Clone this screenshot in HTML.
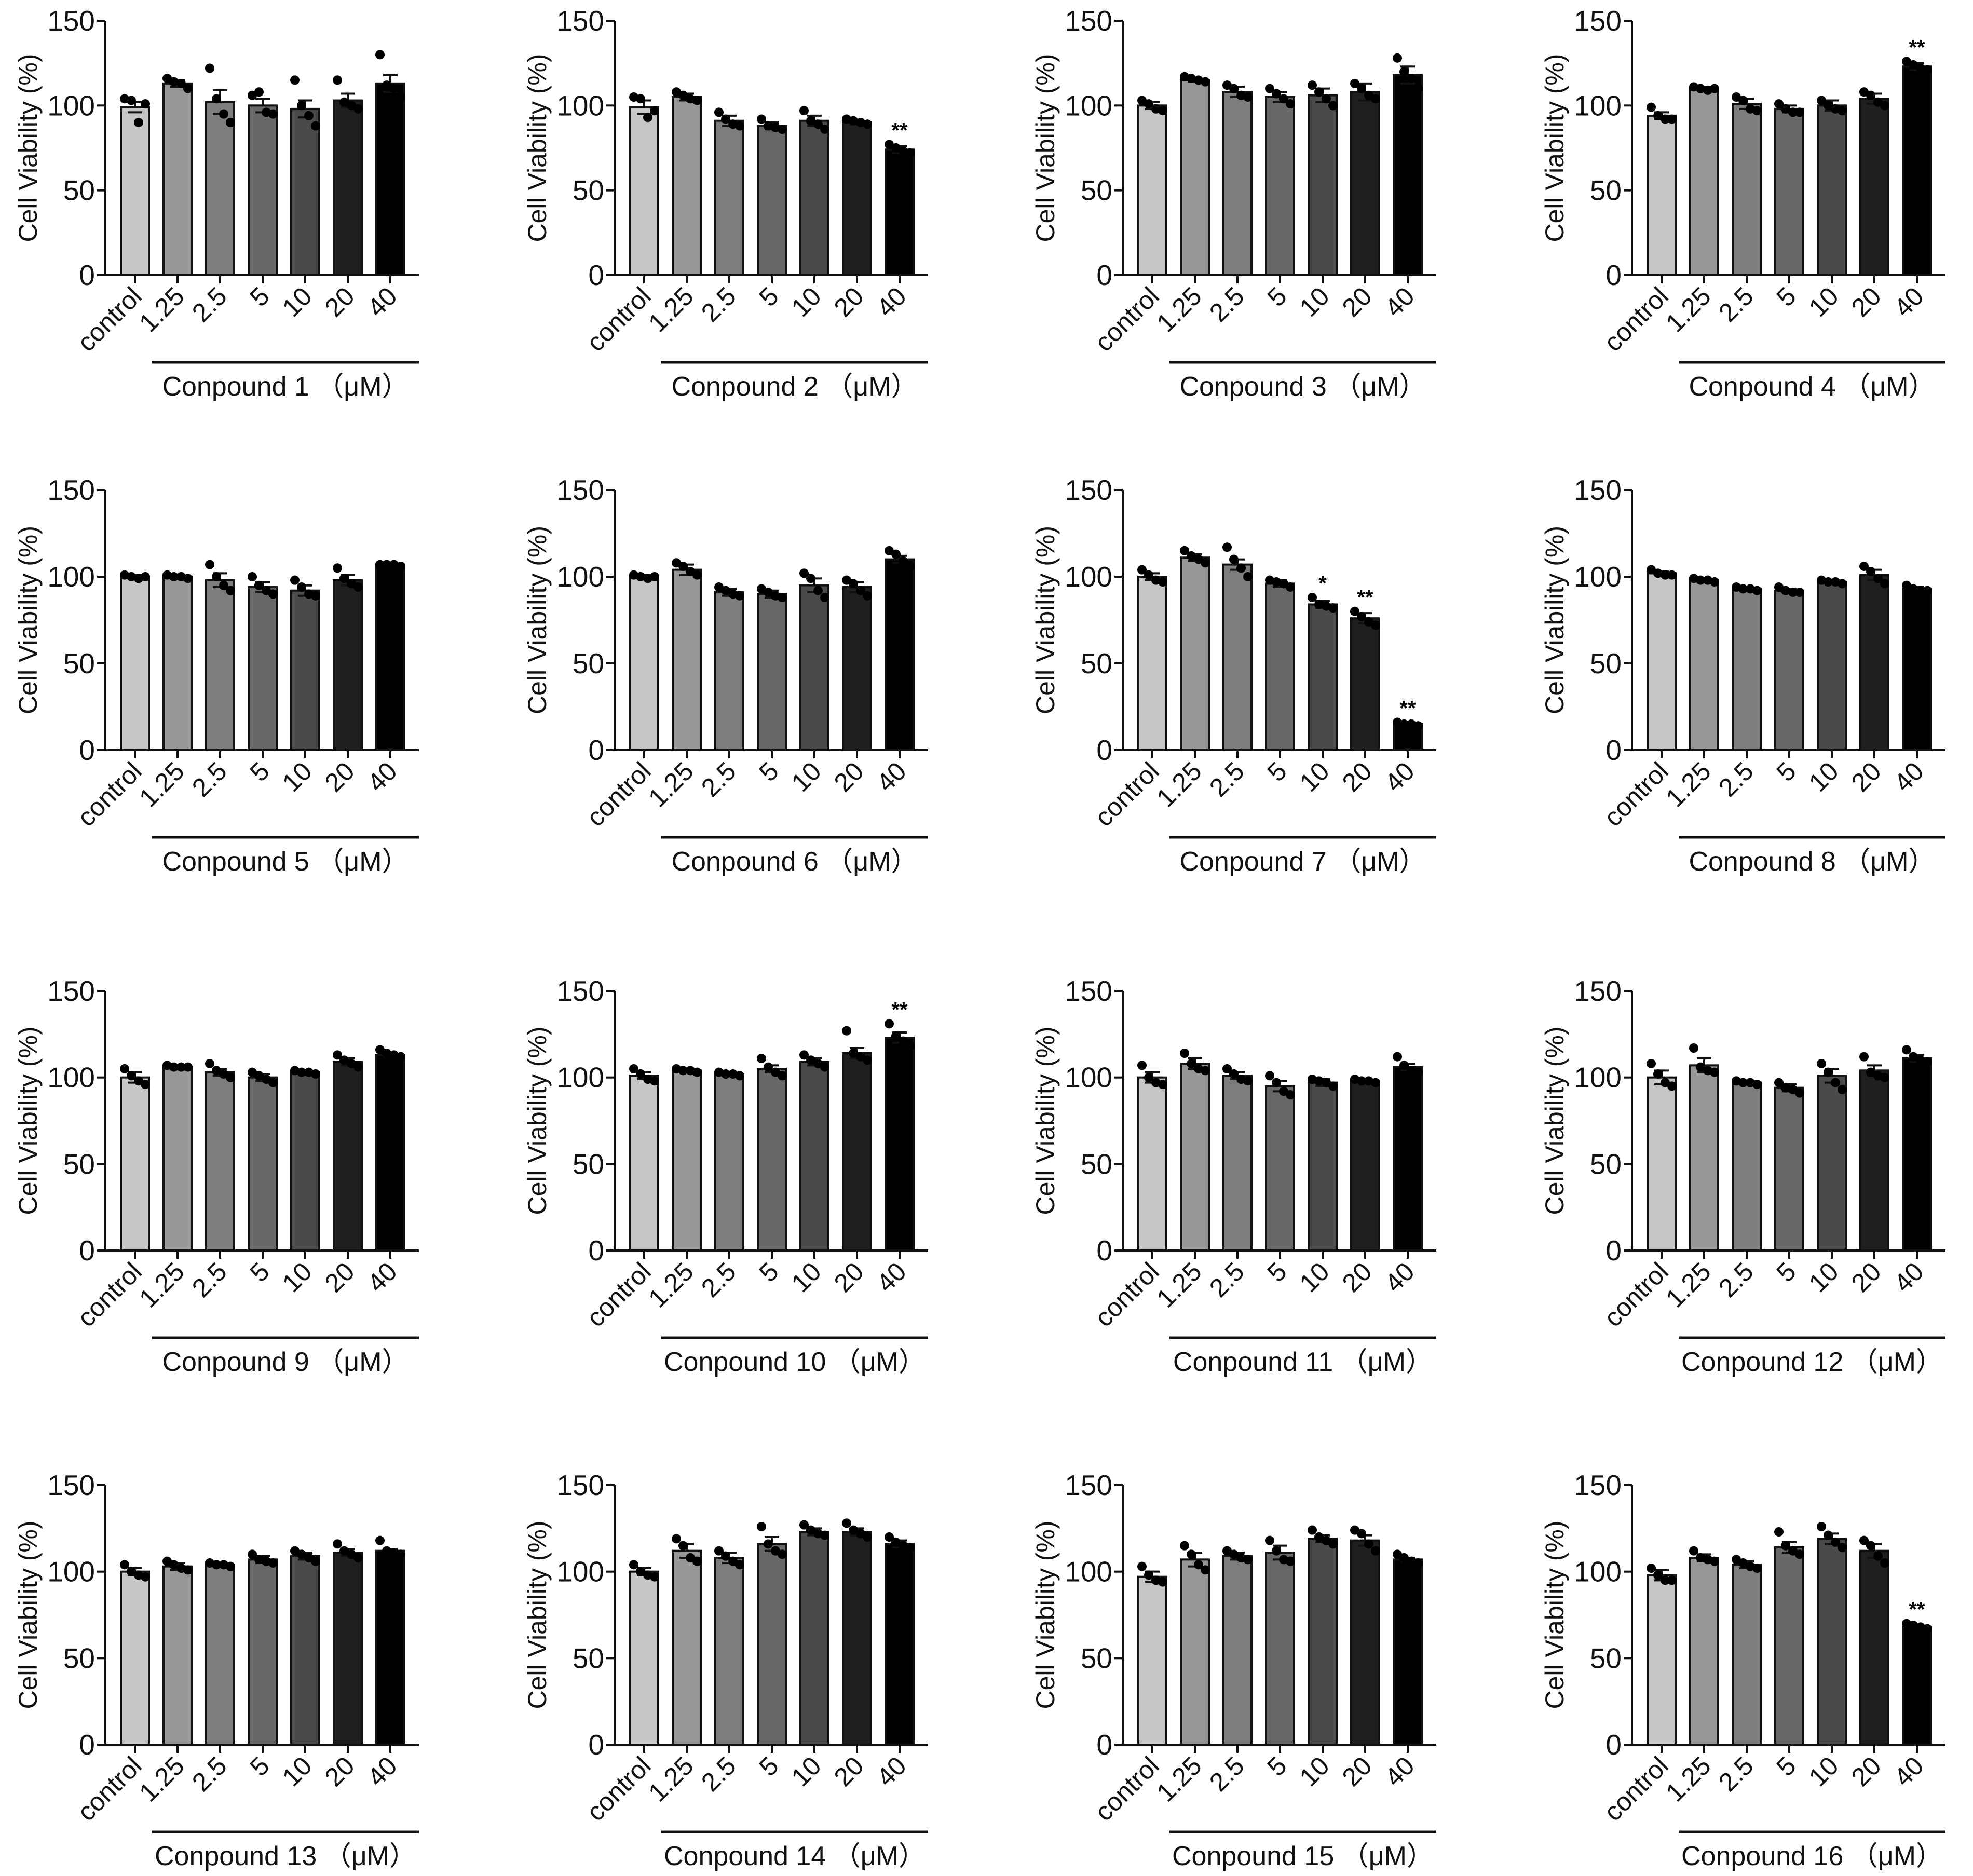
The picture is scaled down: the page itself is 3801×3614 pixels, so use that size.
<!DOCTYPE html>
<html><head><meta charset="utf-8">
<style>
html,body{margin:0;padding:0;background:#fff;}
svg{display:block;font-family:"Liberation Sans","DejaVu Sans",sans-serif;}
</style></head>
<body>
<svg id="fig" width="3801" height="3614" viewBox="0 0 3801 3614" xmlns="http://www.w3.org/2000/svg"></svg>
<script>
const categories = ["control","1.25","2.5","5","10","20","40"];
const yTicks = [0,50,100,150];
const compoundNames = ["1","2","3","4","5","6","7","8","9","10","11","12","13","14","15","16"];
const means = [
 [99,113,102,100,98,103,113],[99,105,91,88,91,90,74],[100,115,108,105,106,108,118],[94,110,101,98,100,104,123],
 [100,100,98,94,92,98,107],[100,104,91,90,95,94,110],[100,111,107,96,84,76,15],[102,98,93,92,97,101,93],
 [100,106,103,100,103,109,113],[101,104,102,105,109,114,123],[100,108,101,95,97,98,106],[100,107,97,94,101,104,111],
 [100,103,104,107,109,111,112],[100,112,108,116,123,123,116],[97,107,109,111,119,118,107],[98,108,104,114,119,112,68]];
const sems = [
 [3,2,7,4,5,4,5],[4,2,3,2,3,1,2],[2,1,3,3,4,5,5],[2,1,3,2,3,3,2],
 [1,1,4,3,3,3,0.5],[1,3,2,2,4,3,2],[2,2,3,2,2,3,1],[1,1,1,1,1,3,1],
 [3,1,2,2,1,2,1],[2,1,1,2,2,3,3],[3,3,2,3,2,1,2],[4,4,1,2,4,3,2],
 [2,2,1,2,2,2,1],[2,4,3,4,2,2,2],[3,4,2,4,2,3,1],[3,2,2,3,3,4,1]];
const points = [
 [[104,103,90,101],[116,114,113,110],[122,104,95,90],[106,108,96,95],[115,100,94,88],[115,102,100,98],[130,112,110,105]],
 [[105,104,93,97],[108,106,104,103],[96,92,89,88],[92,88,87,86],[97,91,89,86],[92,91,90,89],[77,75,73,72]],
 [[103,101,98,97],[117,116,115,114],[112,110,106,105],[110,107,104,101],[112,108,104,100],[113,110,106,104],[128,120,116,110]],
 [[99,94,92,92],[111,110,109,110],[105,103,98,97],[101,98,96,96],[103,100,98,97],[108,106,102,100],[126,124,122,121]],
 [[101,100,99,100],[101,100,100,99],[107,100,95,92],[100,95,92,90],[98,94,90,89],[105,99,96,94],[107,107,107,106]],
 [[101,100,99,100],[108,106,103,101],[94,92,90,89],[93,91,89,88],[102,99,92,88],[98,96,92,89],[115,113,109,106]],
 [[104,101,98,97],[115,112,110,108],[117,110,105,100],[98,97,96,94],[88,84,83,82],[80,77,74,72],[16,15,15,14]],
 [[104,102,101,101],[99,98,98,97],[94,93,93,92],[94,92,91,91],[98,97,97,96],[106,103,99,96],[95,93,92,92]],
 [[105,101,98,96],[107,106,106,106],[108,104,102,100],[103,101,99,97],[104,103,103,102],[113,110,108,106],[116,114,113,112]],
 [[105,102,99,98],[105,104,104,103],[103,102,102,101],[111,106,103,101],[113,110,108,106],[127,114,112,110],[131,124,121,118]],
 [[107,100,97,96],[114,108,105,104],[105,102,99,98],[101,97,92,90],[99,98,97,95],[99,98,98,97],[112,107,104,103]],
 [[108,102,97,95],[117,106,104,103],[98,97,97,96],[97,94,93,91],[108,103,97,93],[112,103,101,100],[116,112,110,109]],
 [[104,100,98,97],[106,104,102,101],[105,104,104,103],[110,107,106,105],[112,110,108,106],[116,112,110,108],[118,112,111,110]],
 [[104,100,98,97],[119,115,108,106],[112,109,106,104],[126,116,112,110],[127,124,122,121],[128,124,122,120],[120,117,115,114]],
 [[103,98,95,94],[115,110,104,101],[112,110,108,107],[118,112,107,106],[124,120,118,116],[124,122,116,112],[110,108,106,105]],
 [[102,98,95,95],[112,108,107,106],[107,105,103,102],[123,115,112,110],[126,121,117,114],[118,115,109,105],[70,69,68,67]]];
const stars = [
 ["","","","","","",""],["","","","","","","**"],["","","","","","",""],["","","","","","","**"],
 ["","","","","","",""],["","","","","","",""],["","","","","*","**","**"],["","","","","","",""],
 ["","","","","","",""],["","","","","","","**"],["","","","","","",""],["","","","","","",""],
 ["","","","","","",""],["","","","","","",""],["","","","","","",""],["","","","","","","**"]];

const fills = ["#c6c6c6","#979797","#7d7d7d","#676767","#4a4a4a","#1f1f1f","#000"];
const colX = [203,1184,2163,3144];
const rowTop = [40,944,1909,2861];
const rowBase = [530,1445,2409,3361];
const NS = "http://www.w3.org/2000/svg";
const svg = document.getElementById("fig");
function mk(tag, attrs, parent){const e=document.createElementNS(NS,tag);for(const k in attrs)e.setAttribute(k,attrs[k]);parent.appendChild(e);return e;}

for(let p=0;p<16;p++){
  const ax=colX[p%4], top=rowTop[Math.floor(p/4)], base=rowBase[Math.floor(p/4)];
  const yS=v=>base-(v/150)*(base-top);
  const spacing=82, bw=54;
  const xS=i=>ax+57+i*spacing;
  const g=mk("g",{},svg);
  
  
  for(let i=0;i<7;i++){
    const m=means[p][i], s=sems[p][i], cx=xS(i);
    const r=mk("rect",{x:cx-bw/2,y:yS(m),width:bw,height:base-yS(m),fill:fills[i],stroke:"#111","stroke-width":4},g);
    
    
    const eb=mk("path",{d:`M${cx} ${yS(m)}V${yS(m+s)}M${cx-14} ${yS(m+s)}H${cx+14}M${cx-14} ${yS(m-s)}H${cx+14}`,stroke:"#111","stroke-width":4,fill:"none"},g);
    
    
    const offs=[-20,-7,7,20];
    points[p][i].forEach((v,k)=>{
      const c=mk("circle",{cx:cx+offs[k],cy:yS(v),r:9,fill:"#000"},g);
      
      
    });
    if(stars[p][i]){
      const t=mk("text",{x:cx,y:yS(Math.max(m+s,...points[p][i]))-14,"text-anchor":"middle","font-size":40,"font-weight":"bold"},g);
      t.textContent=stars[p][i];
      
      
    }
    mk("line",{x1:cx,y1:base,x2:cx,y2:base+16,stroke:"#111","stroke-width":4},g);
    const lx=cx+16, ly=base+44;
    const tl=mk("text",{x:lx,y:ly,"text-anchor":"end","font-size":50,transform:`rotate(-45 ${lx} ${ly})`,fill:"#111"},g);
    tl.textContent=categories[i];
    
    
  }
  const axes=mk("path",{d:`M${ax} ${top}V${base}M${ax-2} ${base}H${xS(6)+55}`,stroke:"#111","stroke-width":4,fill:"none"},g);
  
  
  yTicks.forEach(v=>{
    mk("line",{x1:ax-16,y1:yS(v),x2:ax,y2:yS(v),stroke:"#111","stroke-width":4},g);
    const t=mk("text",{x:ax-20,y:yS(v)+19,"text-anchor":"end","font-size":55,fill:"#111"},g);
    t.textContent=v;
    
    
  });
  const yt=mk("text",{x:0,y:0,"text-anchor":"middle","font-size":50,fill:"#111",transform:`translate(${ax-132} ${(top+base)/2}) rotate(-90)`},g);
  yt.textContent="Cell Viability (%)";
  
  
  const x1=ax+90, x2=xS(6)+55;
  const ul=mk("line",{x1:x1,y1:base+168,x2:x2,y2:base+168,stroke:"#111","stroke-width":5},g);
  
  
  const xt=mk("text",{x:(x1+x2)/2,y:base+232,"text-anchor":"middle","font-size":52,fill:"#111"},g);
  xt.textContent="Conpound "+compoundNames[p]+" （μM）";
  
  
}
</script>
</body></html>
